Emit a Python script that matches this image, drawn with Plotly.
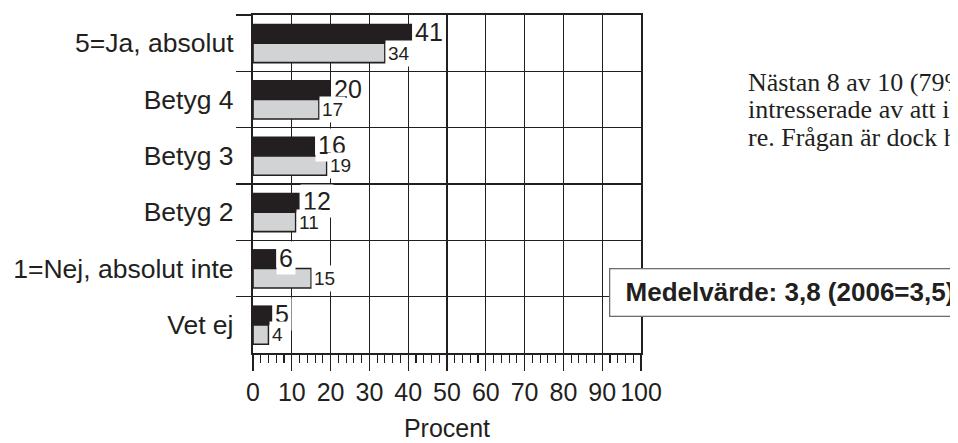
import plotly.graph_objects as go

categories = ["5=Ja, absolut", "Betyg 4", "Betyg 3", "Betyg 2", "1=Nej, absolut inte", "Vet ej"]
values_2010 = [41, 20, 16, 12, 6, 5]
values_2006 = [34, 17, 19, 11, 15, 4]
x_ticks = [0, 10, 20, 30, 40, 50, 60, 70, 80, 90, 100]
mean_text = "Medelvärde: 3,8 (2006=3,5)"
side_lines = ["Nästan 8 av 10 (79%", "intresserade av att in", "re. Frågan är dock h"]

INK = "#231f20"
GRAY = "#d1d3d4"
SANS = "Liberation Sans, Arial, sans-serif"
SERIF = "Liberation Serif, Times New Roman, serif"

fig = go.Figure()
fig.add_trace(go.Bar(
    y=categories, x=values_2010, orientation="h", name="2010",
    marker=dict(color=INK, line=dict(width=0)), hoverinfo="skip",
))
fig.add_trace(go.Bar(
    y=categories, x=values_2006, orientation="h", name="2006",
    marker=dict(color=GRAY, line=dict(color=INK, width=1.6)), hoverinfo="skip",
))

annotations = []
for cat, v in zip(categories, values_2010):
    annotations.append(dict(
        x=v, y=cat, xref="x", yref="y", text=str(v), showarrow=False,
        xanchor="left", yanchor="middle", yshift=11,
        font=dict(family=SANS, size=25, color=INK),
        bgcolor="white", borderpad=2,
    ))
for cat, v in zip(categories, values_2006):
    annotations.append(dict(
        x=v, y=cat, xref="x", yref="y", text=str(v), showarrow=False,
        xanchor="left", yanchor="middle", yshift=-10,
        font=dict(family=SANS, size=19, color=INK),
        bgcolor="white", borderpad=2,
    ))

annotations.append(dict(
    x=0.9187, y=0.1800, xref="paper", yref="paper",
    text="\u00a0<b>" + mean_text + "</b>", showarrow=False,
    xanchor="left", yanchor="middle", align="left", width=400,
    font=dict(family=SANS, size=26, color=INK),
    bgcolor="white", bordercolor="#6d6e71", borderwidth=1.3, borderpad=8,
))

for line, yy in zip(side_lines, [0.800, 0.719, 0.638]):
    annotations.append(dict(
        x=1.271, y=yy, xref="paper", yref="paper", text=line, showarrow=False,
        xanchor="left", yanchor="middle", align="left",
        font=dict(family=SERIF, size=26, color=INK),
    ))

fig.update_layout(
    width=950, height=435,
    margin=dict(l=243, r=317, t=5, b=80),
    paper_bgcolor="white", plot_bgcolor="white",
    barmode="group", bargap=0.31, bargroupgap=0,
    showlegend=False,
    font=dict(family=SANS, size=25, color=INK),
    annotations=annotations,
    xaxis=dict(
        range=[0, 100], tickmode="array", tickvals=x_ticks,
        ticktext=[str(t) for t in x_ticks],
        ticks="outside", ticklen=16, tickwidth=1.3, tickcolor=INK,
        minor=dict(dtick=2, tick0=0, ticks="outside", ticklen=8, tickwidth=1.1,
                   tickcolor=INK, showgrid=False),
        showgrid=True, gridcolor=INK, gridwidth=1.2,
        showline=True, linecolor=INK, linewidth=2.2, mirror=True,
        zeroline=False,
        tickfont=dict(family=SANS, size=25, color=INK),
        title=dict(text="Procent", font=dict(family=SANS, size=25, color=INK), standoff=14),
        fixedrange=True,
    ),
    yaxis=dict(
        type="category", categoryorder="array", categoryarray=categories,
        autorange="reversed", tickson="boundaries",
        ticks="outside", ticklen=15, tickwidth=1.3, tickcolor=INK,
        ticklabelstandoff=12,
        showgrid=True, gridcolor=INK, gridwidth=1.2,
        showline=True, linecolor=INK, linewidth=2.2, mirror=True,
        zeroline=False,
        tickfont=dict(family=SANS, size=26.5, color=INK),
        fixedrange=True,
    ),
)

fig.write_html("out.html", config={"displayModeBar": False, "staticPlot": True})
